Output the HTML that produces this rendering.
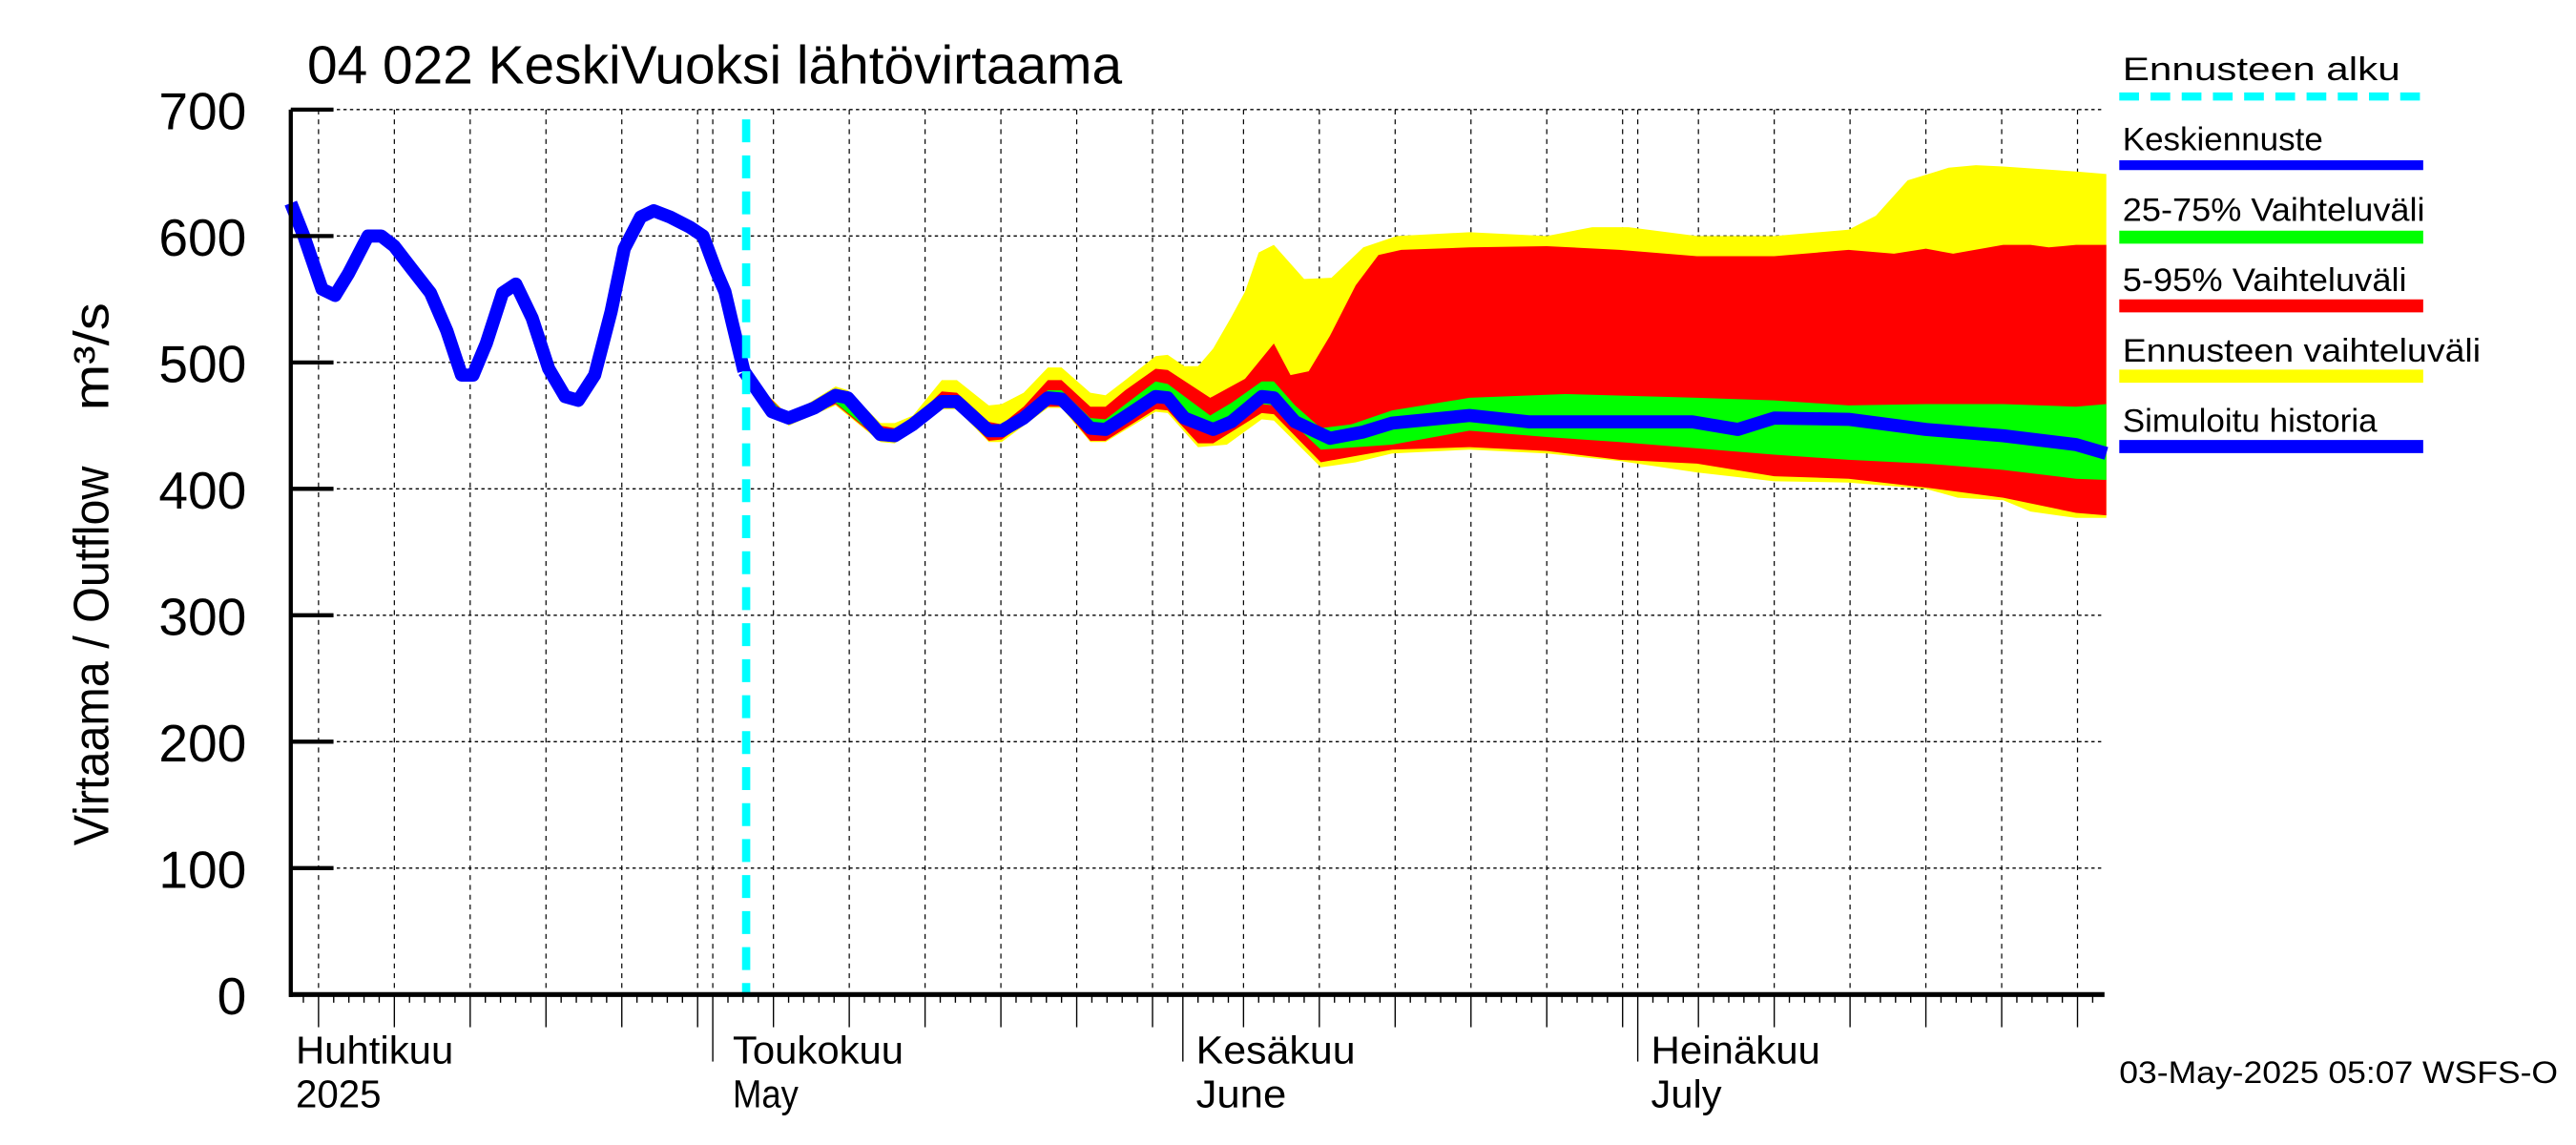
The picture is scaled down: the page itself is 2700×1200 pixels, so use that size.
<!DOCTYPE html>
<html><head><meta charset="utf-8"><style>
html,body{margin:0;padding:0;background:#fff;}
svg{display:block;font-family:"Liberation Sans",sans-serif;}
</style></head><body>
<svg id="chart" width="2700" height="1200" viewBox="0 0 1568 700" preserveAspectRatio="none" xmlns="http://www.w3.org/2000/svg">
<g id="grid"></g>
<g id="bands"></g>
<g id="lines"></g>
<g id="axes"></g>
<text x="187" y="51" font-size="33" textLength="496" lengthAdjust="spacingAndGlyphs">04 022 KeskiVuoksi lähtövirtaama</text>
<text transform="translate(66,401) rotate(-90)" text-anchor="middle" font-size="30" textLength="232" lengthAdjust="spacingAndGlyphs">Virtaama / Outflow</text>
<text transform="translate(66,218) rotate(-90)" text-anchor="middle" font-size="30" textLength="66" lengthAdjust="spacingAndGlyphs">m³/s</text>
<g font-size="20">
<text x="1292" y="49" textLength="169" lengthAdjust="spacingAndGlyphs">Ennusteen alku</text>
<line x1="1290" y1="59" x2="1475" y2="59" stroke="#00ffff" stroke-width="5" stroke-dasharray="12,7"/>
<text x="1292" y="92" textLength="122" lengthAdjust="spacingAndGlyphs">Keskiennuste</text>
<line x1="1290" y1="101" x2="1475" y2="101" stroke="#0000ff" stroke-width="6"/>
<text x="1292" y="135" textLength="184" lengthAdjust="spacingAndGlyphs">25-75% Vaihteluväli</text>
<line x1="1290" y1="145" x2="1475" y2="145" stroke="#00ff00" stroke-width="8"/>
<text x="1292" y="178" textLength="173" lengthAdjust="spacingAndGlyphs">5-95% Vaihteluväli</text>
<line x1="1290" y1="187" x2="1475" y2="187" stroke="#ff0000" stroke-width="8"/>
<text x="1292" y="221" textLength="218" lengthAdjust="spacingAndGlyphs">Ennusteen vaihteluväli</text>
<line x1="1290" y1="230" x2="1475" y2="230" stroke="#ffff00" stroke-width="8"/>
<text x="1292" y="264" textLength="155" lengthAdjust="spacingAndGlyphs">Simuloitu historia</text>
<line x1="1290" y1="273" x2="1475" y2="273" stroke="#0000ff" stroke-width="8"/>
</g>
<g font-size="24">
<text x="180" y="650" textLength="96" lengthAdjust="spacingAndGlyphs">Huhtikuu</text>
<text x="180" y="677" textLength="52" lengthAdjust="spacingAndGlyphs">2025</text>
<text x="446" y="650" textLength="104" lengthAdjust="spacingAndGlyphs">Toukokuu</text>
<text x="446" y="677" textLength="40" lengthAdjust="spacingAndGlyphs">May</text>
<text x="728" y="650" textLength="97" lengthAdjust="spacingAndGlyphs">Kesäkuu</text>
<text x="728" y="677" textLength="55" lengthAdjust="spacingAndGlyphs">June</text>
<text x="1005" y="650" textLength="103" lengthAdjust="spacingAndGlyphs">Heinäkuu</text>
<text x="1005" y="677" textLength="43" lengthAdjust="spacingAndGlyphs">July</text>
</g>
<text x="1290" y="662" font-size="19" textLength="267" lengthAdjust="spacingAndGlyphs">03-May-2025 05:07 WSFS-O</text>
</svg>
<script>
// days since 1 April 2025 (0 = Apr 1)
const yTicks = [0,100,200,300,400,500,600,700];
const forecastStartDay = 32.2;
const histDays = [2.17,3.03,4.23,5.09,5.96,7.26,8.13,8.99,10.08,11.38,12.46,13.43,14.19,15.06,16.14,17.01,18.09,19.18,20.26,21.13,22.21,23.29,24.16,25.24,26.11,27.19,28.49,29.36,30.23,30.8,31.31,32.06];
const histVals = [626,600,558,553,570,600,600,592,575,555,525,490,490,515,555,562,535,495,473,470,490,540,590,615,620,615,607,600,572,556,530,493];
const meanDays = [32.06,33.9,35.0,36.7,38.1,38.9,41.05,42.0,43.2,45.1,46.1,48.2,49.05,50.5,52.1,53.0,54.9,55.9,57.2,59.2,60.0,61.1,63.0,64.2,66.2,67.0,68.4,70.7,72.9,74.8,79.9,83.8,94.6,97.6,100,104.9,110,115.1,119.9,121.9];
const meanVals = [493,461,456,464,474,472,443,442,451,469,469,446,446,456,472,471,448,447,457,473,472,456,447,453,473,472,453,440,445,452,458,453,453,447,456,455,447,442,435,428];
const yTopDays = [32.06,35.0,38.1,38.9,41.05,42.0,43.2,45.1,46.1,48.2,49.05,50.5,52.1,53.0,54.9,55.9,57.2,59.2,60.0,61.1,62.0,63.0,64.2,65.1,66.0,67.0,69.0,70.8,72.9,75.1,79.9,85.0,88.0,90.4,94.9,100.0,104.9,106.7,108.8,111.5,113.3,115.1,117.5,119.9,121.9];
const yTopVals = [493,458,481,478,452,452,458,486,486,466,467,476,496,496,476,474,486,505,506,497,497,511,536,556,587,593,566,567,591,600,603,600,607,607,600,600,605,616,644,654,656,655,653,651,649];
const rTopDays = [32.06,35.0,38.1,38.9,41.05,42.0,43.2,45.1,46.1,48.2,49.05,50.5,52.1,53.0,54.9,55.9,57.2,59.2,60.0,62.8,65.1,67.0,68.1,69.3,70.7,72.4,73.9,75.4,79.9,85.0,89.8,94.9,100.0,104.9,107.9,110.0,111.8,115.1,116.9,118.1,119.9,121.9];
const rTopVals = [493,457,478,476,450,448,455,477,476,453,451,465,486,486,465,465,478,495,494,472,487,515,490,493,521,561,585,589,591,592,589,584,584,589,586,590,586,593,593,591,593,593];
const gTopDays = [32.06,35.0,38.1,38.9,41.05,42.0,45.1,46.1,48.2,49.05,52.1,53.0,54.9,55.9,59.2,60.0,62.8,64.2,66.2,67.0,68.4,70.1,72.1,74.8,79.9,86.2,94.9,100.0,104.9,110.0,115.1,119.9,121.9];
const gTopVals = [493,456,475,473,445,444,471,471,448,448,478,478,456,455,485,483,458,468,485,485,466,448,451,462,472,475,472,470,466,467,467,465,467];
const gBotDays = [32.06,35.0,38.1,41.05,42.0,45.1,46.1,48.2,49.05,52.1,53.0,54.9,55.9,59.2,60.0,63.0,66.2,67.0,70.1,74.8,79.9,85.0,89.8,94.9,100.0,104.9,110.0,115.1,119.9,121.9];
const gBotVals = [493,452,468,439,438,465,465,441,441,468,468,443,442,469,468,442,467,466,431,435,446,441,437,432,427,423,420,415,408,407];
const rBotDays = [32.06,35.0,38.1,41.05,42.0,45.1,46.1,48.2,49.05,52.1,53.0,54.9,55.9,59.2,60.0,62.0,63.0,66.2,67.0,70.1,72.4,74.8,79.9,85.0,89.8,94.9,100.0,104.9,110.0,115.1,119.9,121.9];
const rBotVals = [493,451,467,438,437,464,464,438,439,465,465,438,438,463,462,436,436,460,459,421,426,431,433,430,423,420,410,408,401,393,381,379];
const yBotDays = [32.06,35.0,38.1,41.05,42.0,45.1,46.1,48.2,49.05,52.1,53.0,54.9,55.9,59.2,60.0,62.0,63.9,66.2,67.0,70.1,72.4,74.8,79.9,85.0,89.8,94.9,100.0,104.9,110.0,112.1,115.1,116.9,119.9,121.9];
const yBotVals = [493,450,466,437,436,463,463,437,437,464,464,437,437,461,460,433,435,455,454,417,421,428,431,428,422,413,406,405,400,393,391,382,377,377];

const NS = "http://www.w3.org/2000/svg";
const X0 = 177, X1 = 1281, Y0 = 608, Y1 = 67;
const DAY0 = 2.17, DAYPX = 9.23;
function xs(d){ return X0 + (d - DAY0) * DAYPX; }
function ys(v){ return Y0 - (v / 700) * (Y0 - Y1); }
function mk(tag, attrs, parent){
  const e = document.createElementNS(NS, tag);
  for (const k in attrs) e.setAttribute(k, attrs[k]);
  parent.appendChild(e); return e;
}
const grid = document.getElementById('grid');
const axes = document.getElementById('axes');
const bands = document.getElementById('bands');
const lines = document.getElementById('lines');

yTicks.forEach(v => {
  if (v > 0) {
    const g = mk('line', {x1:X0, x2:X1, y1:ys(v), y2:ys(v), stroke:'#000', 'stroke-width':0.8, 'stroke-dasharray':'2,2'}, grid);
    
    
  }
  const t = mk('line', {x1:X0, x2:X0+26, y1:ys(v), y2:ys(v), stroke:'#000', 'stroke-width':2.5}, axes);
  
  
  const lb = mk('text', {x:150, y:ys(v)+12, 'text-anchor':'end', 'font-size':32}, axes);
  lb.textContent = v;
  
  
});

const monthLens = [30,31,30,31];
let dayIdx = 0;
for (let m = 0; m < monthLens.length; m++) {
  for (let dm = 1; dm <= monthLens[m]; dm++) {
    const d = dayIdx + dm - 1;
    const x = xs(d);
    if (x >= X0 - 0.1 && x <= X1 + 0.1) {
      let len = 5;
      if (dm === 1) len = 41; else if (dm % 5 === 0) len = 20;
      const tk = mk('line', {x1:x, x2:x, y1:Y0, y2:Y0+len, stroke:'#000', 'stroke-width':0.8}, axes);
      
      
      if (dm === 1 || dm % 5 === 0) {
        const gl = mk('line', {x1:x, x2:x, y1:Y1, y2:Y0, stroke:'#000', 'stroke-width':0.7, 'stroke-dasharray':'3,3'}, grid);
        
        
      }
    }
  }
  dayIdx += monthLens[m];
}

function band(topD, topV, botD, botV, color, name){
  let pts = [];
  for (let i = 0; i < topD.length; i++) pts.push(xs(topD[i]) + ',' + ys(topV[i]));
  for (let i = botD.length - 1; i >= 0; i--) pts.push(xs(botD[i]) + ',' + ys(botV[i]));
  const p = mk('polygon', {points: pts.join(' '), fill: color}, bands);
  
  
}
band(yTopDays, yTopVals, yBotDays, yBotVals, '#ffff00', 'forecast-range-band');
band(rTopDays, rTopVals, rBotDays, rBotVals, '#ff0000', 'band-5-95');
band(gTopDays, gTopVals, gBotDays, gBotVals, '#00ff00', 'band-25-75');

function polyline(D, V, name){
  const pts = D.map((d, i) => xs(d) + ',' + ys(V[i])).join(' ');
  const p = mk('polyline', {points: pts, fill:'none', stroke:'#0000ff', 'stroke-width':8, 'stroke-linejoin':'round'}, lines);
  
  
}
polyline(histDays, histVals, 'simulated-history-line');
polyline(meanDays, meanVals, 'mean-forecast-line');

const fs = mk('line', {x1:xs(forecastStartDay), x2:xs(forecastStartDay), y1:Y1+6, y2:Y0, stroke:'#00ffff', 'stroke-width':5, 'stroke-dasharray':'14,8'}, lines);



const ya = mk('line', {x1:X0, x2:X0, y1:Y1, y2:Y0+1.5, stroke:'#000', 'stroke-width':2.5}, axes);


const xa = mk('line', {x1:X0-1, x2:X1, y1:Y0, y2:Y0, stroke:'#000', 'stroke-width':3}, axes);


</script>
</body></html>
